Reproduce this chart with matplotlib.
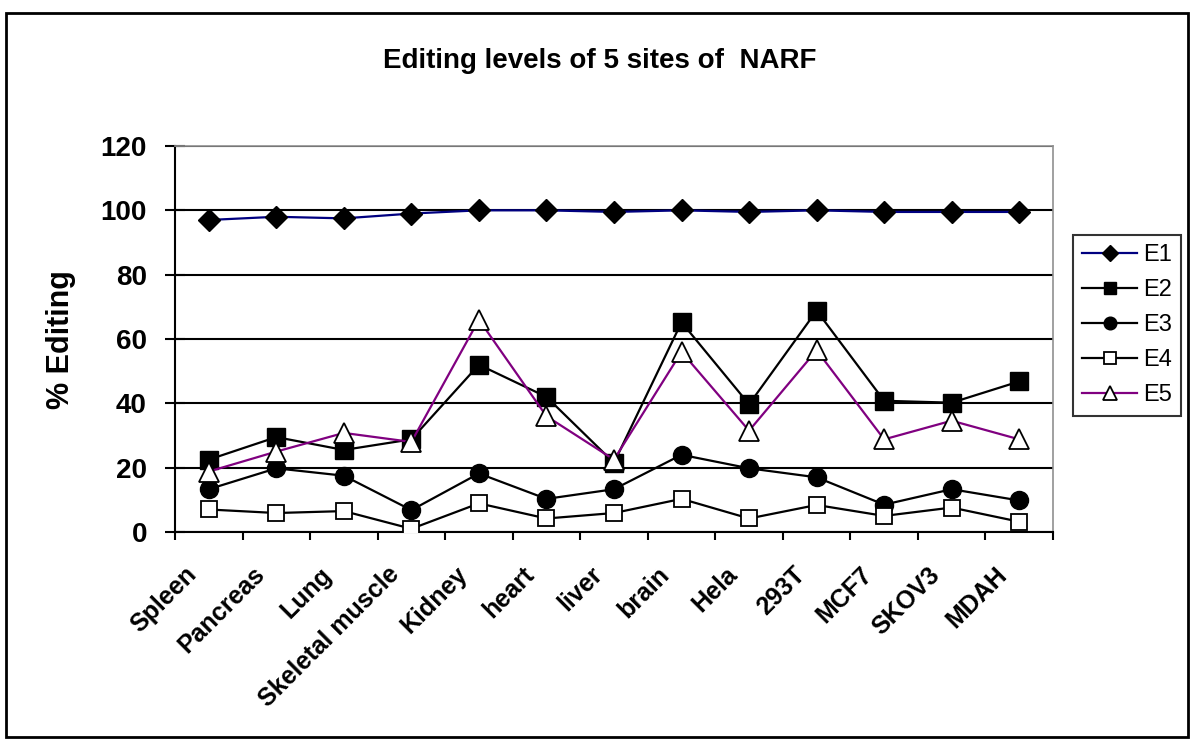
import matplotlib
matplotlib.use('Agg')
import matplotlib.pyplot as plt
import matplotlib.transforms as mtransforms
from matplotlib.patches import Rectangle

plt.rcParams['font.family'] = ['Liberation Sans', 'DejaVu Sans']

# Ткани / клеточные линии
tissues = ['Spleen', 'Pancreas', 'Lung', 'Skeletal muscle', 'Kidney', 'heart',
           'liver', 'brain', 'Hela', '293T', 'MCF7', 'SKOV3', 'MDAH']

# Уровни редактирования (%) для пяти сайтов
e1 = [97, 98, 97.5, 99, 100, 100, 99.5, 100, 99.5, 100, 99.5, 99.5, 99.5]
e2 = [22.5, 29.5, 25.5, 28.8, 52, 42, 21.5, 65.2, 39.7, 68.8, 40.8, 40.2, 46.8]
e3 = [13.3, 19.8, 17.5, 6.8, 18.2, 10.3, 13.3, 24, 19.8, 17, 8.5, 13.3, 9.8]
e4 = [7, 5.9, 6.5, 1, 8.9, 4.2, 5.9, 10.3, 4.2, 8.4, 5, 7.6, 3.2]
e5 = [18.8, 25, 30.8, 28, 66, 36, 22.5, 56, 31.5, 56.5, 28.8, 34.6, 28.8]

labels = ['E1', 'E2', 'E3', 'E4', 'E5']

fig = plt.figure(figsize=(12, 7.52), dpi=100)
ax = fig.add_axes([175 / 1200, 1 - 532 / 752, (1053 - 175) / 1200, (532 - 146) / 752])

x = list(range(len(tissues)))
lw = 1.6
ax.plot(x, e1, color='#000080', lw=lw, marker='D', ms=11.5, mfc='black', mec='black', label=labels[0], zorder=5)
ax.plot(x, e2, color='black', lw=lw, marker='s', ms=13, mfc='black', mec='black', label=labels[1], zorder=4)
ax.plot(x, e3, color='black', lw=lw, marker='o', ms=13, mfc='black', mec='black', label=labels[2], zorder=4)
ax.plot(x, e4, color='black', lw=lw, marker='s', ms=12, mfc='white', mec='black', mew=1.3, label=labels[3], zorder=4)
ax.plot(x, e5, color='#800080', lw=lw, marker='^', ms=14, mfc='white', mec='black', mew=1.3, label=labels[4], zorder=4)

ax.set_xlim(-0.5, len(tissues) - 0.5)
ax.set_ylim(0, 120)
ax.set_yticks(range(0, 121, 20))
ax.yaxis.grid(True, color='black', lw=1.5)
ax.set_axisbelow(True)

for side in ['top', 'right']:
    ax.spines[side].set_color('#909090')
    ax.spines[side].set_linewidth(1.2)
for side in ['left', 'bottom']:
    ax.spines[side].set_color('black')
    ax.spines[side].set_linewidth(1.5)

ax.tick_params(axis='y', direction='inout', length=14.4, width=1.5, labelsize=20, pad=13)
for t in ax.get_yticklabels():
    t.set_fontweight('bold')

ax.set_xticks(x)
ax.set_xticks([i - 0.5 for i in range(len(tissues) + 1)], minor=True)
ax.tick_params(axis='x', which='major', length=0, pad=14)
ax.tick_params(axis='x', which='minor', direction='out', length=6, width=1.5)
ax.set_xticklabels(tissues, rotation=45, ha='right', va='top', rotation_mode='anchor',
                   fontsize=18, fontweight='bold')
offset = mtransforms.ScaledTranslation(-24 / 100, -11 / 100, fig.dpi_scale_trans)
for t in ax.get_xticklabels():
    t.set_transform(t.get_transform() + offset)

fig.text(0.5, 1 - 61 / 752, 'Editing levels of 5 sites of  NARF', ha='center', va='center',
         fontsize=20, fontweight='bold')
fig.text(61 / 1200, 1 - 340 / 752, '% Editing', rotation=90, ha='center', va='center',
         fontsize=22, fontweight='bold')

leg = ax.legend(loc='upper left', bbox_to_anchor=(1073 / 1200, 1 - 235 / 752),
                bbox_transform=fig.transFigure, borderaxespad=0, fancybox=False,
                edgecolor='black', fontsize=17, handlelength=2.3, labelspacing=0.55,
                borderpad=0.4, handletextpad=0.25, markerscale=0.7)
leg.get_frame().set_linewidth(1.5)

fig.patches.append(Rectangle((6 / 1200, 1 - 737 / 752), (1188 - 6) / 1200, (737 - 13) / 752,
                             transform=fig.transFigure, fill=False, edgecolor='black', lw=2))

fig.savefig('out.png', dpi=100)
